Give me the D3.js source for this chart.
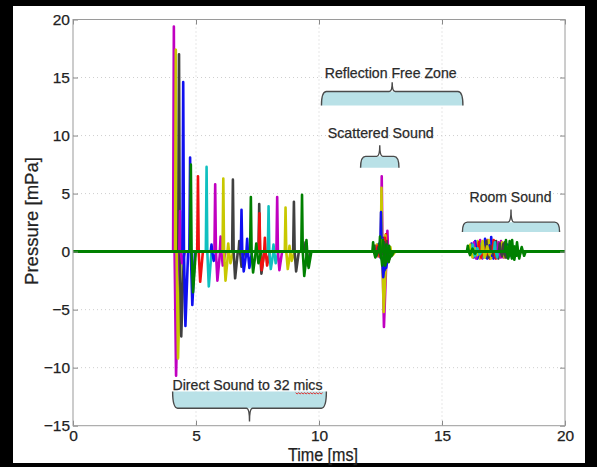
<!DOCTYPE html>
<html><head><meta charset="utf-8">
<script src="https://cdn.jsdelivr.net/npm/d3@7"></script>
<style>body{margin:0;background:#000;}svg{display:block;}</style>
</head><body>
<svg id="c" width="597" height="467"></svg>
<script>
// ---------- data ----------
const xTicks = [0, 5, 10, 15, 20];
const yTicks = [-15, -10, -5, 0, 5, 10, 15, 20];
const micColor = ["m","y","k","m","b","b","g","r","c","b","m","m","y","y","k","k","b","b","g","g","k","r","r","c","c","m","y","y","k","g","k","g"];
// direct sound (ms, mPa)
const directTime   = [4.10,4.18,4.31,4.35,4.48,4.76,4.79,5.08,5.43,5.63,5.78,6.00,6.11,6.31,6.50,6.76,6.85,7.08,7.23,7.45,7.57,7.58,7.80,7.95,8.15,8.30,8.64,8.80,8.98,9.31,9.45,9.49];
const directPeak   = [19.4,17.4,17.0,3.5,14.6,8.1,7.5,6.5,7.3,0.6,5.8,1.3,6.3,0.7,6.2,0.9,3.6,1.1,4.7,0.7,4.1,3.3,1.2,3.9,0.6,4.7,3.8,0.5,4.3,4.9,0.8,1.0];
const directTrough = [-10.7,-9.2,-7.3,-1.0,-6.4,-4.6,-3.5,-2.6,-3.0,-0.8,-2.5,-1.2,-2.5,-1.0,-2.3,-1.3,-1.7,-1.4,-1.8,-1.0,-1.9,-1.6,-1.2,-1.5,-1.0,-1.6,-1.5,-0.8,-1.7,-2.1,-1.2,-1.4];
// scattered sound
const scatterTime   = [12.55,12.54,12.60,12.78,12.52,12.58,12.48,12.72,12.62,12.40,12.66,12.30,12.70,12.35,12.75,12.25,12.64,12.45,12.20,12.85,12.50,12.68,12.38,12.56,12.80,12.62,12.58,12.90,12.66,12.60,12.42,12.74];
const scatterPeak   = [6.5,5.5,1.2,1.8,3.4,1.0,1.3,1.5,0.9,0.6,1.0,0.5,1.4,0.6,0.9,0.5,1.1,0.7,0.8,0.5,0.8,1.2,0.5,0.8,0.4,0.9,1.0,0.4,0.8,1.0,0.4,0.6];
const scatterTrough = [-6.5,-5.2,-1.0,-0.6,-2.2,-1.6,-1.2,-0.9,-0.8,-0.5,-0.7,-0.4,-0.9,-0.4,-0.6,-0.3,-1.4,-0.6,-0.5,-0.4,-0.9,-0.8,-0.4,-0.9,-0.3,-0.7,-0.8,-0.3,-0.7,-1.2,-0.4,-0.9];
// room sound
const roomTime   = [16.55,16.45,16.70,17.05,16.35,17.00,16.05,16.85,16.60,16.20,16.30,17.40,16.90,16.15,17.20,17.55,16.75,17.65,17.60,17.85,16.80,17.10,16.50,17.15,16.25,17.30,17.45,16.65,17.50,17.75,17.35,18.05];
const roomPeak   = [1.0,0.9,0.8,0.7,0.9,1.25,0.5,1.0,0.7,0.7,0.8,0.9,1.0,0.6,0.9,0.8,1.1,0.6,1.0,1.0,0.9,1.0,0.8,0.8,0.6,0.8,0.8,0.9,0.7,0.9,0.7,0.8];
const roomTrough = [-0.6,-0.6,-0.5,-0.5,-0.6,-0.6,-0.3,-0.6,-0.5,-0.5,-0.6,-0.5,-0.6,-0.5,-0.6,-0.5,-0.6,-0.4,-0.6,-0.7,-0.5,-0.6,-0.5,-0.5,-0.4,-0.5,-0.5,-0.5,-0.5,-0.6,-0.4,-0.6];
// annotations: label, start (ms), end (ms)
const annLabels = ["Direct Sound to 32 mics", "Reflection Free Zone", "Scattered Sound", "Room Sound"];
const annStart  = [4.05, 10.10, 11.69, 15.83];
const annEnd    = [10.30, 15.85, 13.25, 19.78];

// ---------- styles ----------
const palette = {b:"#1010f0", g:"#008000", r:"#f01010", c:"#10c0c0", m:"#c000c0", y:"#c8c800", k:"#404040"};
const FONT = "'Liberation Sans', Arial, Helvetica, sans-serif";

const svg = d3.select("#c");
svg.append("rect").attr("width",597).attr("height",467).attr("fill","#000");
svg.append("rect").attr("x",13).attr("y",6).attr("width",572).attr("height",457).attr("fill","#fff");

const x = d3.scaleLinear().domain([0,20]).range([73,565]);
const y = d3.scaleLinear().domain([-15,20]).range([425.7,19.5]);

// grid
const grid = svg.append("g").attr("stroke","#cfcfcf").attr("stroke-dasharray","1,3").attr("stroke-width",1);
xTicks.slice(1,-1).forEach(t=>grid.append("line").attr("x1",x(t)).attr("x2",x(t)).attr("y1",y(20)).attr("y2",y(-15)));
yTicks.slice(1,-1).forEach(t=>grid.append("line").attr("x1",x(0)).attr("x2",x(20)).attr("y1",y(t)).attr("y2",y(t)));

// signals
function spike(t,p,n){ return [[t-0.03,0],[t,p],[t+0.03,0],[t+0.09,n],[t+0.2,0]]; }
function burst(t,p,n){ return [[t-0.04,0],[t,p],[t+0.04,0],[t+0.09,n],[t+0.14,0],[t+0.19,p*0.5],[t+0.24,0],[t+0.29,n*0.6],[t+0.35,0]]; }
const mics = micColor.map((c,i)=>({
  color: palette[c],
  green: c==="g",
  pts: [[0,0], ...spike(directTime[i],directPeak[i],directTrough[i]),
        ...spike(scatterTime[i],scatterPeak[i],scatterTrough[i]),
        ...burst(roomTime[i],roomPeak[i],roomTrough[i]), [20,0]]
}));
const order = mics.filter(m=>!m.green).concat(mics.filter(m=>m.green));
const line = d3.line().x(d=>x(d[0])).y(d=>y(d[1]));
svg.append("g").selectAll("path").data(order).join("path")
  .attr("d",d=>line(d.pts)).attr("fill","none").attr("stroke",d=>d.color)
  .attr("stroke-width",2.6).attr("stroke-linejoin","round");

// axes
const fmt = d=> d<0 ? "\u2212"+Math.abs(d) : String(d);
const ax = svg.append("g").attr("transform",`translate(0,${y(-15)})`)
  .call(d3.axisBottom(x).tickValues(xTicks).tickFormat(fmt).tickSize(-5).tickPadding(4));
const ay = svg.append("g").attr("transform",`translate(${x(0)},0)`)
  .call(d3.axisLeft(y).tickValues(yTicks).tickFormat(fmt).tickSize(-5).tickPadding(3));
const axt = svg.append("g").attr("transform",`translate(0,${y(20)})`)
  .call(d3.axisTop(x).tickValues(xTicks).tickFormat("").tickSize(-5));
const ayr = svg.append("g").attr("transform",`translate(${x(20)},0)`)
  .call(d3.axisRight(y).tickValues(yTicks).tickFormat("").tickSize(-5));
[ax,ay,axt,ayr].forEach(g=>{
  g.select(".domain").remove();
  g.selectAll("line").attr("stroke","#888");
  g.selectAll("text").attr("font-family",FONT).attr("font-size",15.5).attr("fill","#222")
    .attr("stroke","#222").attr("stroke-width",0.25);
});
svg.append("rect").attr("x",x(0)).attr("y",y(20)).attr("width",x(20)-x(0)).attr("height",y(-15)-y(20))
  .attr("fill","none").attr("stroke","#9a9a9a").attr("stroke-width",1);

// axis titles
svg.append("text").attr("x",323).attr("y",461).attr("text-anchor","middle")
  .attr("font-family",FONT).attr("font-size",18).attr("fill","#222").attr("stroke","#222").attr("stroke-width",0.25)
  .attr("textLength",70).attr("lengthAdjust","spacingAndGlyphs").text("Time [ms]");
svg.append("text").attr("transform","translate(38,221) rotate(-90)").attr("text-anchor","middle")
  .attr("font-family",FONT).attr("font-size",19).attr("fill","#222").attr("stroke","#222").attr("stroke-width",0.25)
  .attr("textLength",128).attr("lengthAdjust","spacingAndGlyphs").text("Pressure [mPa]");

// braces
const BFILL = "#b9e1e7", BSTROKE = "#4a4a4a";
function bracePath(xl,xr,yOpen,yLn,ySp){
  const xc=(xl+xr)/2, r=5;
  return {
    fill:`M${xl},${yOpen} Q${xl},${yLn} ${xl+r},${yLn} L${xr-r},${yLn} Q${xr},${yLn} ${xr},${yOpen} Z`,
    edge:`M${xl},${yOpen} Q${xl},${yLn} ${xl+r},${yLn} L${xc-3},${yLn} Q${xc},${yLn} ${xc},${ySp} Q${xc},${yLn} ${xc+3},${yLn} L${xr-r},${yLn} Q${xr},${yLn} ${xr},${yOpen}`
  };
}
function brace(xl,xr,yOpen,yLn,ySp){
  const p = bracePath(xl,xr,yOpen,yLn,ySp);
  svg.append("path").attr("d",p.fill).attr("fill",BFILL).attr("stroke","none");
  svg.append("path").attr("d",p.edge).attr("fill","none").attr("stroke",BSTROKE).attr("stroke-width",1.4);
}
function label(txt,cx,base,len){
  return svg.append("text").attr("x",cx).attr("y",base).attr("text-anchor","middle")
    .attr("font-family",FONT).attr("font-size",14.5).attr("fill","#2a2a2a")
    .attr("stroke","#2a2a2a").attr("stroke-width",0.25)
    .attr("textLength",len).attr("lengthAdjust","spacingAndGlyphs").text(txt);
}
// Direct sound (spike pointing down)
brace(x(annStart[0]),x(annEnd[0]),y(-12.06),y(-13.49),y(-14.64));
label(annLabels[0],(x(annStart[0])+x(annEnd[0]))/2-2,y(-11.9),150);
{ // spell-check squiggle under "mics"
  const x0=x(annStart[0])+123, x1=x0+28, yb=y(-11.9)+3; let p=`M${x0},${yb}`;
  for(let xx=x0+1.5,k=0; xx<=x1; xx+=1.5,k++) p+=` L${xx},${yb+(k%2?0:1.2)}`;
  svg.append("path").attr("d",p).attr("fill","none").attr("stroke","#e03030").attr("stroke-width",1);
}
// Reflection free zone
brace(x(annStart[1]),x(annEnd[1]),y(12.6),y(13.8),y(14.6));
label(annLabels[1],(x(annStart[1])+x(annEnd[1]))/2-1.5,y(15.0),132);
// Scattered sound
brace(x(annStart[2]),x(annEnd[2]),y(7.22),y(8.21),y(9.16));
label(annLabels[2],(x(annStart[2])+x(annEnd[2]))/2+1,y(9.79),106);
// Room sound
brace(x(annStart[3]),x(annEnd[3]),y(1.7),y(2.54),y(3.63));
label(annLabels[3],(x(annStart[3])+x(annEnd[3]))/2-0.5,y(4.26),82);
</script>
</body></html>
